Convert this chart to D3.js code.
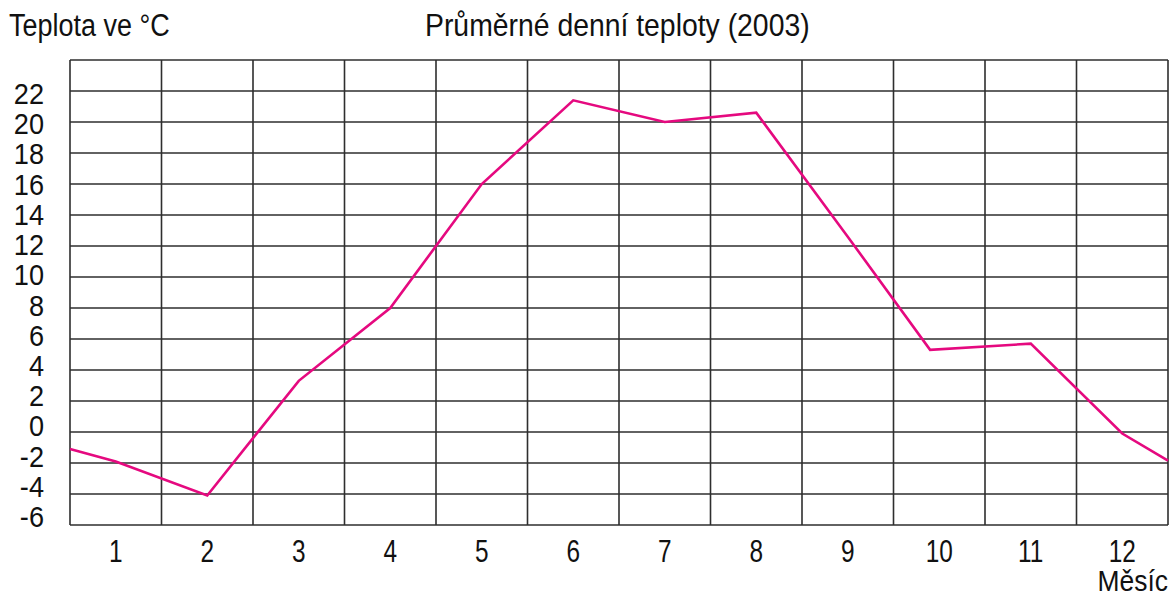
<!DOCTYPE html>
<html>
<head>
<meta charset="utf-8">
<script src="https://cdn.jsdelivr.net/npm/d3@7"></script>
<style>
  html, body { margin: 0; padding: 0; background: #fff; }
  svg { display: block; }
  text { font-family: "Liberation Sans", Arial, sans-serif; fill: #111; }
</style>
</head>
<body>
<svg id="chart" width="1170" height="598"></svg>
<script>
// Monthly average temperatures (2003); the curve runs edge to edge of the grid
const months = [1, 2, 3, 4, 5, 6, 7, 8, 9, 10, 11, 12];
const monthLabels = ["1", "2", "3", "4", "5", "6", "7", "8", "9", "10", "11", "12"];
const tempX = [0.5, 1, 2, 3, 4, 5, 6, 7, 8, 9, 9.9, 11, 12, 12.5];
const tempValues = [-1.1, -1.9, -4.1, 3.3, 8.0, 16.0, 21.4, 20.0, 20.6, 12.6, 5.3, 5.7, -0.1, -1.85];
const yTicks = [-6, -4, -2, 0, 2, 4, 6, 8, 10, 12, 14, 16, 18, 20, 22];
const yGrid = [-6, -4, -2, 0, 2, 4, 6, 8, 10, 12, 14, 16, 18, 20, 22, 24];

const svg = d3.select("#chart");
const plotLeft = 70, plotRight = 1168, plotTop = 60, plotBottom = 525;

const x = d3.scaleLinear().domain([0.5, 12.5]).range([plotLeft, plotRight]);
const y = d3.scaleLinear().domain([-6, 24]).range([plotBottom, plotTop]);
// tick labels sit on a slightly tighter pitch than the grid
const yLabel = d3.scaleLinear().domain([-6, 22]).range([527, 104]);

const gridColor = "#2e2e2e";

// horizontal grid lines
svg.append("g").selectAll("line").data(yGrid).join("line")
  .attr("x1", plotLeft).attr("x2", plotRight)
  .attr("y1", d => y(d)).attr("y2", d => y(d))
  .attr("stroke", gridColor).attr("stroke-width", 1.6);

// vertical lines at month boundaries
const bounds = d3.range(0, 13).map(i => 0.5 + i);
svg.append("g").selectAll("line").data(bounds).join("line")
  .attr("y1", plotTop).attr("y2", plotBottom)
  .attr("x1", d => x(d)).attr("x2", d => x(d))
  .attr("stroke", gridColor).attr("stroke-width", 1.6);

// condensed text helper
function label(px, py, str, size, sx, anchor) {
  return svg.append("text")
    .attr("transform", `translate(${px},${py}) scale(${sx},1)`)
    .attr("text-anchor", anchor || "start")
    .attr("font-size", size)
    .text(str);
}

// y-axis labels
yTicks.forEach(d => label(44, yLabel(d), String(d), 29.5, 0.92, "end"));

// month labels
months.forEach((d, i) => label(x(d), 562, monthLabels[i], 30.5, 0.8, "middle"));

// temperature curve
const line = d3.line().x(d => x(d[0])).y(d => y(d[1]));
svg.append("path")
  .datum(tempX.map((m, i) => [m, tempValues[i]]))
  .attr("d", line)
  .attr("fill", "none")
  .attr("stroke", "#e5097f")
  .attr("stroke-width", 2.6)
  .attr("stroke-linejoin", "miter");

// titles
label(9, 36, "Teplota ve °C", 31, 0.87);
label(425, 36, "Průměrné denní teploty (2003)", 31, 0.915);
label(1168, 591, "Měsíc", 30, 0.88, "end");
</script>
</body>
</html>
